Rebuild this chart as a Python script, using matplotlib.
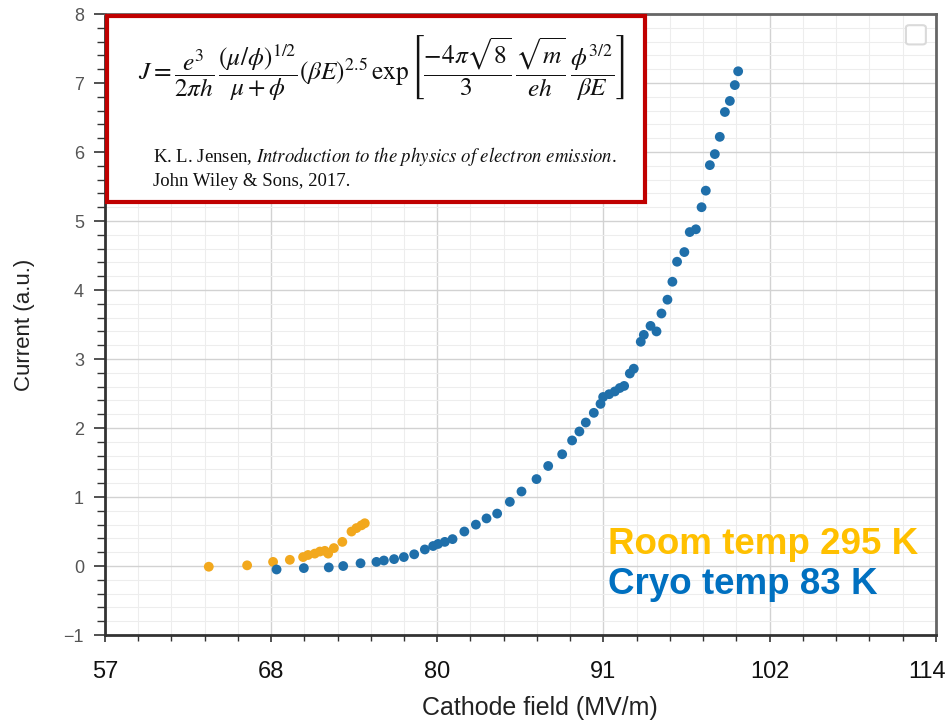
import matplotlib
matplotlib.use("Agg")
import matplotlib.pyplot as plt
import matplotlib.ticker as mticker
import matplotlib.transforms as mtransforms
from matplotlib.patches import Rectangle, FancyBboxPatch
import numpy as np

plt.rcParams["font.family"] = ["Liberation Sans", "DejaVu Sans"]
plt.rcParams["mathtext.fontset"] = "stix"

# ── data ────────────────────────────────────────────────────────────────────
room_x = [64.13, 66.76, 68.54, 69.69, 70.60, 70.94, 71.40, 71.75, 72.09,
          72.32, 72.71, 73.29, 73.92, 74.26, 74.60, 74.83]
room_y = [-0.01, 0.01, 0.06, 0.09, 0.13, 0.16, 0.18, 0.21, 0.22,
          0.18, 0.26, 0.35, 0.50, 0.55, 0.59, 0.62]

cryo_x = [68.78, 70.65, 72.36, 73.35, 74.54, 75.63, 76.14, 76.84, 77.51,
          78.22, 78.95, 79.52, 79.86, 80.32, 80.85, 81.66, 82.45, 83.18,
          83.91, 84.78, 85.58, 86.61, 87.41, 88.37, 89.05, 89.55, 89.99,
          90.54, 91.00, 91.18, 91.59, 91.98, 92.32, 92.62, 93.01, 93.28,
          93.76, 93.97, 94.43, 94.84, 95.18, 95.59, 95.93, 96.25, 96.75,
          97.12, 97.54, 97.93, 98.22, 98.50, 98.84, 99.18, 99.53, 99.87,
          100.21, 100.44]
cryo_y = [-0.05, -0.03, -0.02, 0.00, 0.04, 0.06, 0.08, 0.10, 0.13,
          0.17, 0.24, 0.29, 0.32, 0.35, 0.39, 0.50, 0.60, 0.69,
          0.76, 0.93, 1.08, 1.26, 1.45, 1.62, 1.82, 1.95, 2.08,
          2.22, 2.35, 2.45, 2.49, 2.53, 2.58, 2.61, 2.79, 2.86,
          3.25, 3.35, 3.48, 3.40, 3.66, 3.86, 4.12, 4.41, 4.55,
          4.84, 4.88, 5.20, 5.44, 5.81, 5.97, 6.22, 6.58, 6.74,
          6.97, 7.17]

x_ticks = np.linspace(57, 114, 6)
x_tick_labels = ["57", "68", "80", "91", "102", "114"]
y_ticks = np.arange(-1, 9)

ROOM_COLOR = "#F2A81D"
CRYO_COLOR = "#1F6FAA"

fig = plt.figure(figsize=(9.53, 7.26), dpi=100)
fig.patch.set_facecolor("white")
ax = fig.add_axes([0.110, 0.1253, 0.872, 0.8554])

ax.scatter(room_x, room_y, s=50, color=ROOM_COLOR, edgecolors="none", zorder=3)
ax.scatter(cryo_x, cryo_y, s=50, color=CRYO_COLOR, edgecolors="none", zorder=3)

ax.set_xlim(57, 114)
ax.set_ylim(-1, 8)
ax.set_xticks(x_ticks)
ax.set_xticklabels(x_tick_labels)
ax.set_yticks(y_ticks)
ax.xaxis.set_minor_locator(mticker.AutoMinorLocator(5))
ax.yaxis.set_minor_locator(mticker.AutoMinorLocator(5))

ax.grid(which="major", color="#d2d2d2", lw=1.0)
ax.grid(which="minor", color="#ededed", lw=0.8)
ax.set_axisbelow(True)

ax.tick_params(axis="x", which="major", labelsize=17, colors="#333333",
               labelcolor="#111111", length=5, width=1.2, pad=14)
ax.tick_params(axis="x", which="minor", length=4, width=1.0, colors="#333333")
ax.tick_params(axis="y", which="major", labelsize=13, colors="#333333",
               labelcolor="#555555", length=8, width=1.2, pad=7)
ax.tick_params(axis="y", which="minor", length=6, width=1.0, colors="#333333")

# last x label sits a little left of its tick, as in the original
last = ax.get_xticklabels()[-1]
last.set_transform(last.get_transform() +
                   mtransforms.ScaledTranslation(-9 / 100, 0, fig.dpi_scale_trans))

for side in ["left", "bottom"]:
    ax.spines[side].set_color("#333333")
    ax.spines[side].set_linewidth(2)
for side in ["top", "right"]:
    ax.spines[side].set_color("#666666")
    ax.spines[side].set_linewidth(2)

fig.text(25 / 953, 1 - 325 / 726, "Current (a.u.)", rotation=90,
         ha="center", va="center", fontsize=16, color="#222222")
fig.text(540 / 953, 1 - 708 / 726, "Cathode field (MV/m)",
         ha="center", va="center", fontsize=18, color="#222222")

# empty legend placeholder at top right
ax.add_patch(FancyBboxPatch((0.964, 0.951), 0.024, 0.031,
                            boxstyle="round,pad=0,rounding_size=0.004",
                            transform=ax.transAxes, facecolor="white",
                            edgecolor="#dadada", lw=1.5, zorder=4))

# ── inset box with the emission formula ─────────────────────────────────────
ax.add_patch(Rectangle((0.003, 0.697), 0.647, 0.299, transform=ax.transAxes,
                       facecolor="white", edgecolor="#C00000", lw=3,
                       zorder=5, clip_on=False))

formula = (r"$J = \dfrac{e^3}{2\pi h}\,\dfrac{(\mu/\phi)^{1/2}}{\mu+\phi}"
           r"(\beta E)^{2.5}\,\exp\left[\dfrac{-4\pi\sqrt{8}}{3}\,"
           r"\dfrac{\sqrt{m}}{eh}\,\dfrac{\phi^{3/2}}{\beta E}\right]$")
fig.text(382 / 953, 1 - 68 / 726, formula, ha="center", va="center",
         fontsize=18.3, color="#111111", zorder=6)

fig.text(153 / 953, 1 - 157 / 726,
         r"K. L. Jensen, $\mathit{Introduction\ to\ the\ physics\ of\ electron\ emission}$.",
         ha="left", va="center", fontsize=13.5, color="#111111",
         family=["Liberation Serif", "DejaVu Serif"], zorder=6)
fig.text(153 / 953, 1 - 181 / 726, "John Wiley & Sons, 2017.",
         ha="left", va="center", fontsize=13.5, color="#111111",
         family=["Liberation Serif", "DejaVu Serif"], zorder=6)

# ── series labels ───────────────────────────────────────────────────────────
fig.text(608 / 953, 1 - 544 / 726, "Room temp 295 K", ha="left", va="center",
         fontsize=26.5, fontweight="bold", color="#FFC000")
fig.text(608 / 953, 1 - 585 / 726, "Cryo temp 83 K", ha="left", va="center",
         fontsize=26.5, fontweight="bold", color="#0070C0")

fig.savefig("out.png", dpi=100, facecolor=fig.get_facecolor())
